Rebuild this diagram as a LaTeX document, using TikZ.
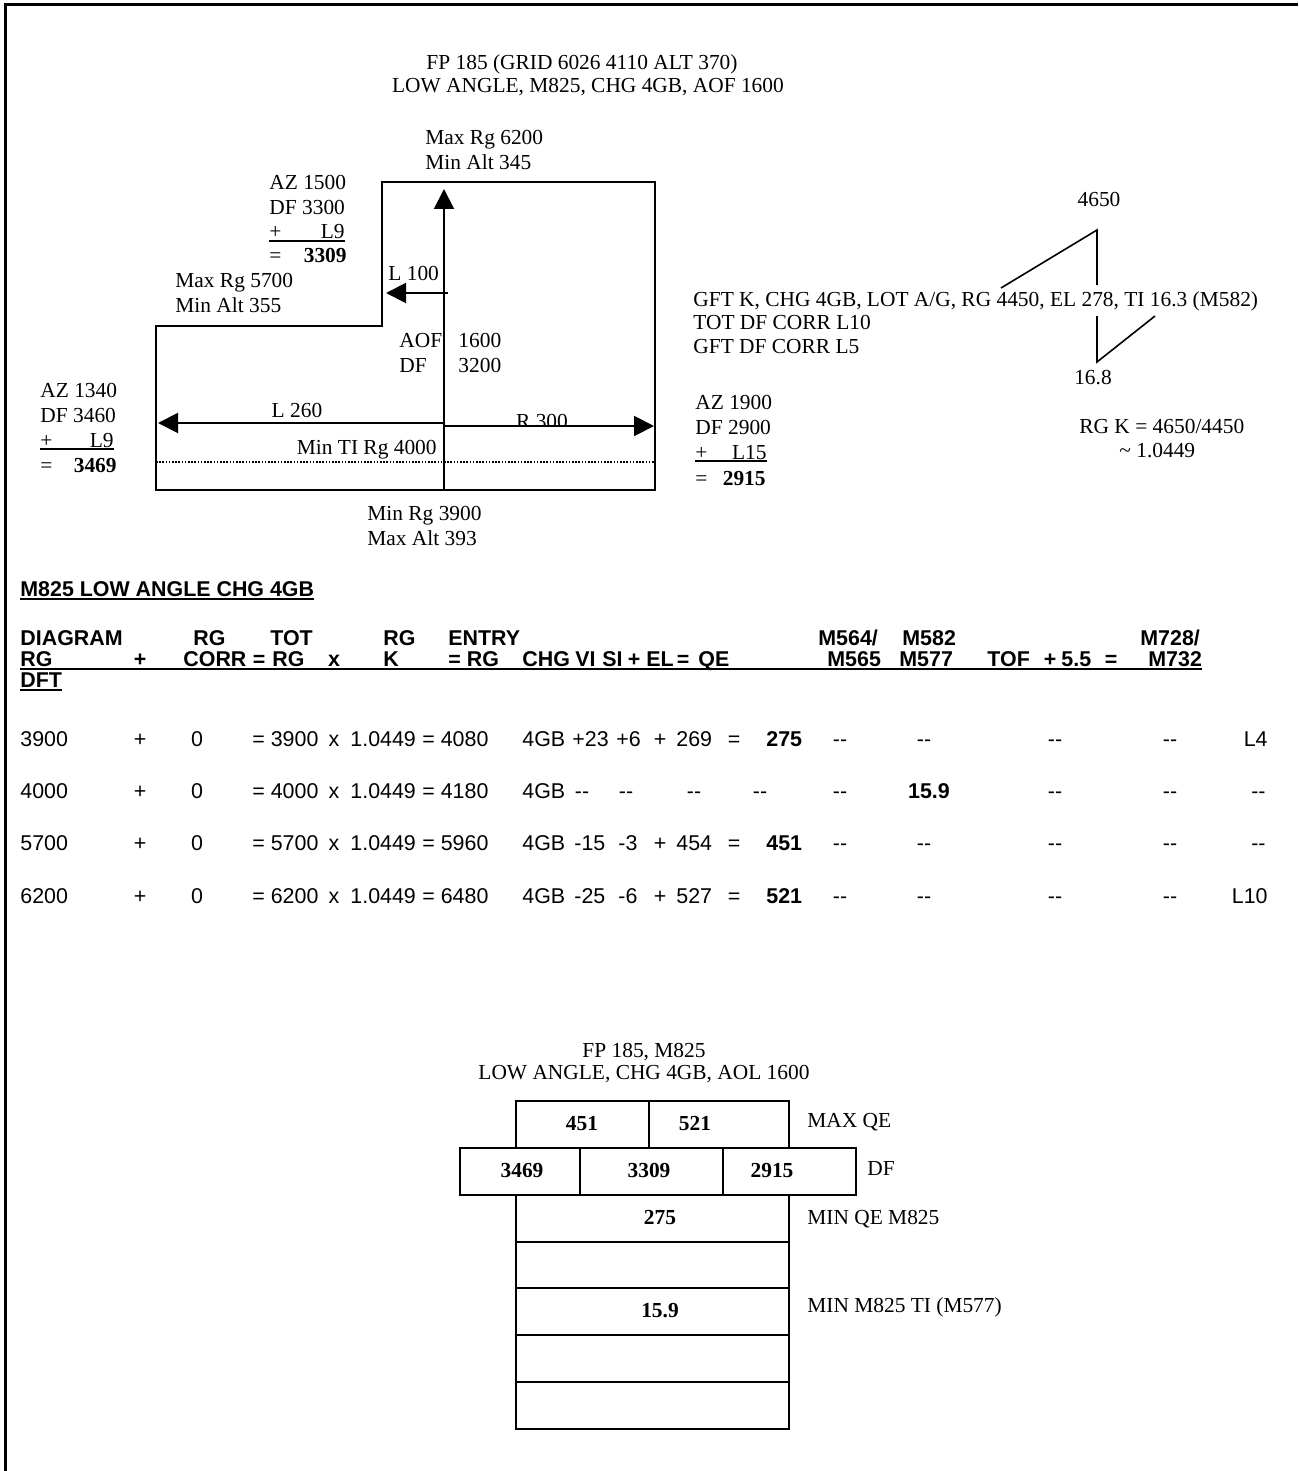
\documentclass[tikz,border=0pt]{standalone}
\usepackage{fontspec}
\setmainfont{Liberation Serif}
\newfontfamily\arialfam{Liberation Sans}
\usetikzlibrary{arrows.meta}

\newcommand{\txtsize}{\fontsize{10.7pt}{12.3pt}\selectfont}
\newcommand{\tabsize}{\fontsize{10.7pt}{12pt}\selectfont\arialfam}
\newcommand{\dd}{-{}-}

\begin{document}
\begin{tikzpicture}
[x=0.5pt,y=-0.5pt,
 txt/.style={draw=none,inner sep=0pt,anchor=base west,font=\txtsize},
 txtr/.style={txt,anchor=base east},
 txtc/.style={txt,anchor=base},
 cell/.style={draw=none,inner sep=0pt,anchor=base west,font=\tabsize},
 cellc/.style={cell,anchor=base},
 cellr/.style={cell,anchor=base east},
 head/.style={cell,font=\tabsize\bfseries},
 headc/.style={head,anchor=base},
 bx/.style={draw=black,line width=1.2pt},
 uline/.style={line width=0.6pt},
 buline/.style={line width=1.2pt},
 ptr/.style={line width=1pt,-{Triangle[length=10pt,width=10pt]}}]
\useasboundingbox (0,0) rectangle (1298,1471);
\draw[line width=1.5pt] (5,1471) -- (5,5) -- (1298,5);

% heading
\node[txtc] (title1) at (582,70) {FP 185 (GRID 6026 4110 ALT 370)};
\node[txtc] (title2) at (588,93) {LOW ANGLE, M825, CHG 4GB, AOF 1600};

% sheaf diagram
\draw[bx] (382,182) -- (655,182) -- (655,490) -- (156,490) -- (156,326) -- (382,326) -- cycle;
\coordinate (base) at (444,490);
\coordinate (tip) at (444,189);
\coordinate (lfrom) at (448,293);
\coordinate (lto) at (386,293);
\coordinate (lleft) at (444,423);
\coordinate (ltip) at (158,423);
\coordinate (rright) at (444,426);
\coordinate (rtip) at (654,426);
\draw[ptr] (base) -- (tip);
\draw[ptr] (lfrom) -- (lto);
\draw[ptr] (lleft) -- (ltip);
\draw[ptr] (rright) -- (rtip);
\coordinate (tia) at (156,462);
\coordinate (tib) at (655,462);
\draw[line width=0.6pt,dash pattern=on 0.8pt off 0.8pt] (tia) -- (tib);

\node[txt] (maxrg) at (425,145) {Max Rg 6200};
\node[txt] (minalt) at (425,170) {Min Alt 345};
\node[txt] (lhund) at (388,280) {L 100};
\node[txt] (aof) at (399,347) {AOF};
\node[txt] (aofval) at (458,347) {1600};
\node[txt] (dfc) at (399,372) {DF};
\node[txt] (dfcval) at (458,372) {3200};
\node[txtc] (ltwo) at (297,417) {L 260};
\begin{scope}
\clip (490,395) rectangle (610,424);
\node[txtc] (rthree) at (542,428) {R 300};
\end{scope}
\node[txtr] (minti) at (437,454) {Min TI Rg 4000};
\node[txt] (minrg) at (367,520) {Min Rg 3900};
\node[txt] (maxalt) at (367,545) {Max Alt 393};
\node[txt] (maxrgb) at (175,287) {Max Rg 5700};
\node[txt] (minaltb) at (175,312) {Min Alt 355};

% left lay data
\node[txt] (azl) at (269,190) {AZ 1500};
\node[txt] (dfl) at (269,214) {DF 3300};
\node[txt] (pll) at (269,239) {+};
\node[txtr] (corl) at (345,239) {L9};
\node[txt] (eql) at (269,263) {=};
\node[txtr] (resl) at (347,263) {\bfseries 3309};
\draw[uline] ([yshift=-1pt]pll.base west) -- ([yshift=-1pt]corl.base east);

\node[txt] (azm) at (40,397) {AZ 1340};
\node[txt] (dfm) at (40,422) {DF 3460};
\node[txt] (plm) at (40,447) {+};
\node[txtr] (corm) at (114,447) {L9};
\node[txt] (eqm) at (40,472) {=};
\node[txtr] (resm) at (117,472) {\bfseries 3469};
\draw[uline] ([yshift=-1pt]plm.base west) -- ([yshift=-1pt]corm.base east);

\node[txt] (azr) at (695,409) {AZ 1900};
\node[txt] (dfr) at (695,434) {DF 2900};
\node[txt] (plr) at (695,459) {+};
\node[txtr] (corr) at (767,459) {L15};
\node[txt] (eqr) at (695,485) {=};
\node[txtr] (resr) at (766,485) {\bfseries 2915};
\draw[uline] ([yshift=-1pt]plr.base west) -- ([yshift=-1pt]corr.base east);

% gft
\node[txt] (gft) at (693,306) {GFT K, CHG 4GB, LOT A/G, RG 4450, EL 278, TI 16.3 (M582)};
\node[txt] (totdf) at (693,329) {TOT DF CORR L10};
\node[txt] (gftdf) at (693,353) {GFT DF CORR L5};
\node[txtc] (rgtot) at (1099,206) {4650};
\coordinate (rga) at (1001,288);
\coordinate (rgb) at (1097,230);
\coordinate (rgc) at (1097,285);
\draw[line width=0.8pt] (rga) -- (rgb) -- (rgc);
\coordinate (tia) at (1097,316);
\coordinate (tib) at (1097,362);
\coordinate (tic) at (1155,316);
\draw[line width=0.8pt] (tia) -- (tib) -- (tic);
\node[txtc] (titot) at (1093,384) {16.8};
\node[txt] (rgk) at (1079,433) {RG K = 4650/4450};
\node[txt] (rgkv) at (1119,457) {\textasciitilde{} 1.0449};

% table
\node[head] (tabtitle) at (20,596) {M825 LOW ANGLE CHG 4GB};
\draw[buline] ([yshift=-1.5pt]tabtitle.base west) -- ([yshift=-1.5pt]tabtitle.base east);

\node[head] (ha1) at (20,645) {DIAGRAM};
\node[head] (ha2) at (193,645) {RG};
\node[head] (ha3) at (270,645) {TOT};
\node[head] (ha4) at (383,645) {RG};
\node[head] (ha5) at (448,645) {ENTRY};
\node[head] (ha6) at (818,645) {M564/};
\node[head] (ha7) at (902,645) {M582};
\node[head] (ha8) at (1140,645) {M728/};

\node[head] (hb1) at (20,666) {RG};
\node[headc] (hb2) at (140,666) {+};
\node[head] (hb3) at (183,666) {CORR};
\node[headc] (hb4) at (259,666) {=};
\node[head] (hb5) at (272,666) {RG};
\node[headc] (hb6) at (334,666) {x};
\node[headc] (hb7) at (391,666) {K};
\node[head] (hb8) at (448,666) {= RG};
\node[head] (hb9) at (522,666) {CHG};
\node[head] (hb10) at (575,666) {VI};
\node[head] (hb11) at (602,666) {SI};
\node[headc] (hb12) at (634,666) {+};
\node[head] (hb13) at (646,666) {EL};
\node[headc] (hb14) at (683,666) {=};
\node[head] (hb15) at (698,666) {QE};
\node[head] (hb16) at (827,666) {M565};
\node[head] (hb17) at (899,666) {M577};
\node[head] (hb18) at (987,666) {TOF};
\node[headc] (hb19) at (1050,666) {+};
\node[head] (hb20) at (1061,666) {5.5};
\node[headc] (hb21) at (1111,666) {=};
\node[head] (hb22) at (1148,666) {M732};
\draw[buline] ([yshift=-1.5pt]hb1.base west) -- ([yshift=-1.5pt]hb22.base east);
\node[head] (hc1) at (20,687) {DFT};
\draw[buline] ([yshift=-1.5pt]hc1.base west) -- ([yshift=-1.5pt]hc1.base east);

% row 3900
\node[cell] (a1) at (20,746) {3900};
\node[cellc] (a2) at (140,746) {+};
\node[cellc] (a3) at (197,746) {0};
\node[cell] (a4) at (252,746) {= 3900};
\node[cellc] (a5) at (334,746) {x};
\node[cell] (a6) at (350,746) {1.0449};
\node[cell] (a7) at (422,746) {= 4080};
\node[cell] (a8) at (522,746) {4GB};
\node[cell] (a9) at (572,746) {+23};
\node[cell] (a10) at (616,746) {+6};
\node[cellc] (a11) at (660,746) {+};
\node[cell] (a12) at (676,746) {269};
\node[cellc] (a13) at (734,746) {=};
\node[cell] (a14) at (766,746) {\bfseries 275};
\node[cellc] (a15) at (840,746) {\dd};
\node[cellc] (a16) at (924,746) {\dd};
\node[cellc] (a17) at (1055,746) {\dd};
\node[cellc] (a18) at (1170,746) {\dd};
\node[cellr] (a19) at (1268,746) {L4};

% row 4000
\node[cell] (b1) at (20,798) {4000};
\node[cellc] (b2) at (140,798) {+};
\node[cellc] (b3) at (197,798) {0};
\node[cell] (b4) at (252,798) {= 4000};
\node[cellc] (b5) at (334,798) {x};
\node[cell] (b6) at (350,798) {1.0449};
\node[cell] (b7) at (422,798) {= 4180};
\node[cell] (b8) at (522,798) {4GB};
\node[cellc] (b9) at (582,798) {\dd};
\node[cellc] (b10) at (626,798) {\dd};
\node[cellc] (b11) at (694,798) {\dd};
\node[cellc] (b12) at (760,798) {\dd};
\node[cellc] (b13) at (840,798) {\dd};
\node[cellc] (b14) at (929,798) {\bfseries 15.9};
\node[cellc] (b15) at (1055,798) {\dd};
\node[cellc] (b16) at (1170,798) {\dd};
\node[cellr] (b17) at (1266,798) {\dd};

% row 5700
\node[cell] (c1) at (20,850) {5700};
\node[cellc] (c2) at (140,850) {+};
\node[cellc] (c3) at (197,850) {0};
\node[cell] (c4) at (252,850) {= 5700};
\node[cellc] (c5) at (334,850) {x};
\node[cell] (c6) at (350,850) {1.0449};
\node[cell] (c7) at (422,850) {= 5960};
\node[cell] (c8) at (522,850) {4GB};
\node[cell] (c9) at (574,850) {-15};
\node[cell] (c10) at (618,850) {-3};
\node[cellc] (c11) at (660,850) {+};
\node[cell] (c12) at (676,850) {454};
\node[cellc] (c13) at (734,850) {=};
\node[cell] (c14) at (766,850) {\bfseries 451};
\node[cellc] (c15) at (840,850) {\dd};
\node[cellc] (c16) at (924,850) {\dd};
\node[cellc] (c17) at (1055,850) {\dd};
\node[cellc] (c18) at (1170,850) {\dd};
\node[cellr] (c19) at (1266,850) {\dd};

% row 6200
\node[cell] (d1) at (20,903) {6200};
\node[cellc] (d2) at (140,903) {+};
\node[cellc] (d3) at (197,903) {0};
\node[cell] (d4) at (252,903) {= 6200};
\node[cellc] (d5) at (334,903) {x};
\node[cell] (d6) at (350,903) {1.0449};
\node[cell] (d7) at (422,903) {= 6480};
\node[cell] (d8) at (522,903) {4GB};
\node[cell] (d9) at (574,903) {-25};
\node[cell] (d10) at (618,903) {-6};
\node[cellc] (d11) at (660,903) {+};
\node[cell] (d12) at (676,903) {527};
\node[cellc] (d13) at (734,903) {=};
\node[cell] (d14) at (766,903) {\bfseries 521};
\node[cellc] (d15) at (840,903) {\dd};
\node[cellc] (d16) at (924,903) {\dd};
\node[cellc] (d17) at (1055,903) {\dd};
\node[cellc] (d18) at (1170,903) {\dd};
\node[cellr] (d19) at (1268,903) {L10};

% data card
\node[txtc] (card1) at (644,1057) {FP 185, M825};
\node[txtc] (card2) at (644,1079) {LOW ANGLE, CHG 4GB, AOL 1600};
\draw[bx] (516,1101) rectangle (789,1148);
\draw[bx] (649,1101) -- (649,1148);
\draw[bx] (460,1148) rectangle (856,1195);
\draw[bx] (580,1148) -- (580,1195);
\draw[bx] (723,1148) -- (723,1195);
\draw[bx] (516,1195) rectangle (789,1429);
\draw[bx] (516,1242) -- (789,1242);
\draw[bx] (516,1288) -- (789,1288);
\draw[bx] (516,1335) -- (789,1335);
\draw[bx] (516,1382) -- (789,1382);
\node[txtc] (qa) at (582,1130) {\bfseries 451};
\node[txtc] (qb) at (695,1130) {\bfseries 521};
\node[txtc] (fa) at (522,1177) {\bfseries 3469};
\node[txtc] (fb) at (649,1177) {\bfseries 3309};
\node[txtc] (fc) at (772,1177) {\bfseries 2915};
\node[txtc] (qmin) at (660,1224) {\bfseries 275};
\node[txtc] (timin) at (660,1317) {\bfseries 15.9};
\node[txt] (maxqe) at (807,1127) {MAX QE};
\node[txt] (dflab) at (867,1175) {DF};
\node[txt] (minqe) at (807,1224) {MIN QE M825};
\node[txt] (mintilab) at (807,1312) {MIN M825 TI (M577)};
\end{tikzpicture}
\end{document}
